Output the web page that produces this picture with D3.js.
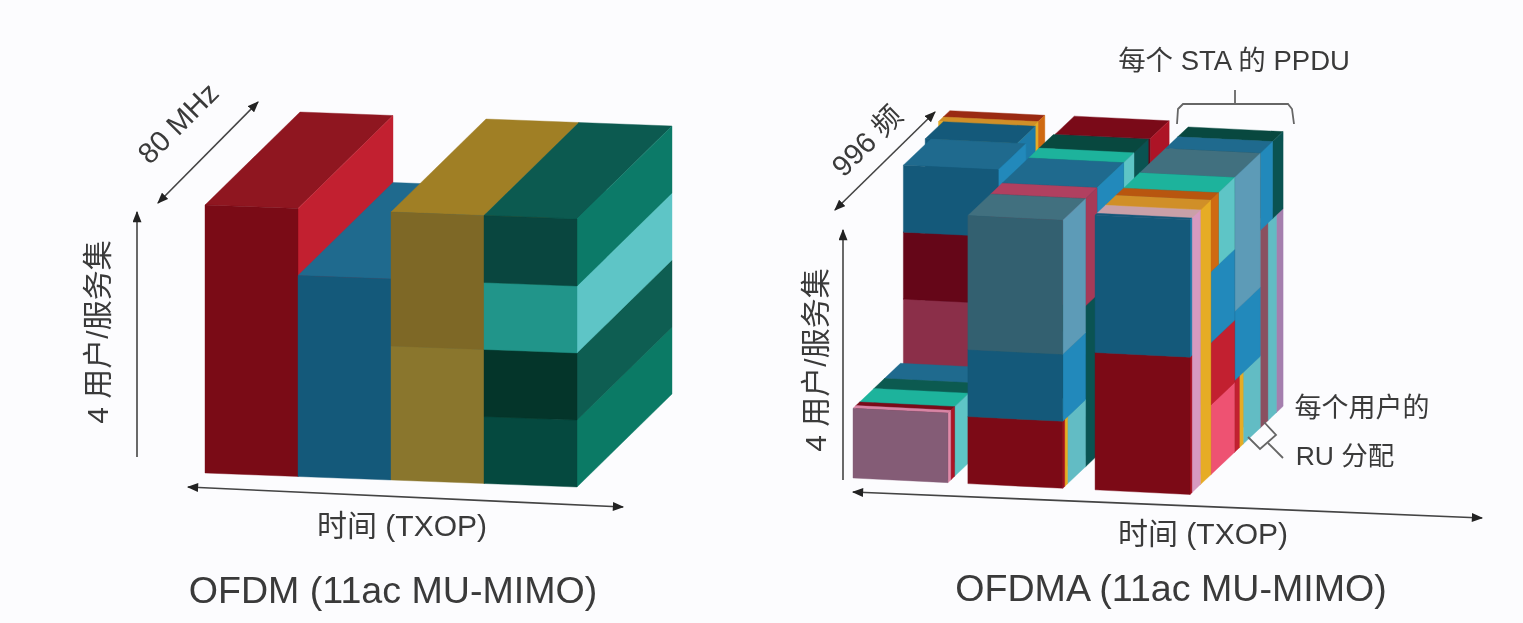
<!DOCTYPE html>
<html>
<head>
<meta charset="utf-8">
<script src="https://cdn.jsdelivr.net/npm/d3@7"></script>
<style>
  html, body { margin: 0; background: #fcfcfe; }
  svg { display: block; filter: blur(0.5px); }
  text { font-family: "Liberation Sans", "Noto Sans CJK SC", sans-serif; fill: #3a3a3a; }
</style>
</head>
<body>
<svg id="chart" width="1523" height="623"></svg>
<script>
// each row: time from, time to, depth from, depth to, level from, level to, resource
// rows are listed back to front, the order they get painted in
const OFDM_USERS = [
  [0, 1, 0, 1, 0, 4, 'crimson'],
  [1, 2, 0, 1, 0, 3, 'ocean'],
  [2, 3, 0, 1, 0, 2, 'ochreLight'],
  [2, 3, 0, 1, 2, 4, 'ochre'],
  [3, 4, 0, 1, 0, 1, 'pine'],
  [3, 4, 0, 1, 1, 2, 'forest'],
  [3, 4, 0, 1, 2, 3, 'jade'],
  [3, 4, 0, 1, 3, 4, 'pineDark'],
]

const OFDMA_FIRST_SLOT = [
  [-0.08, 0.92, 1.03, 1.1, 1, 4, 'rust'],
  [-0.08, 0.92, 0.98, 1.03, 1, 4, 'amber'],
  [-0.03, 0.94, 0.79, 0.98, 1, 4, 'deepOcean'],
  [0.03, 1.03, 0.5, 0.79, 1, 2, 'rose'],
  [0.03, 1.03, 0.5, 0.79, 2, 3, 'wine'],
  [0.03, 1.03, 0.5, 0.79, 3, 4, 'ocean'],
  [0, 1, 0.33, 0.5, 0, 1.04, 'ocean'],
  [0, 1, 0.22, 0.33, 0, 1.04, 'pineDark'],
  [0, 1, 0.07, 0.22, 0, 1.04, 'jade'],
  [0, 1, 0.03, 0.07, 0, 1.04, 'wine'],
  [0, 1, 0, 0.03, 0, 1.04, 'mauve'],
]

const OFDMA_SECOND_SLOT = [
  [1.33, 2.33, 0.8, 1, 0, 4.15, 'wine'],
  [1.21, 2.21, 0.75, 0.9, 0, 4, 'spruce'],
  [1.21, 2.21, 0.64, 0.75, 0, 4, 'jade'],
  [1.21, 2.21, 0.36, 0.64, 0, 4, 'ocean'],
  [1.21, 2.21, 0.24, 0.36, 0, 2.4, 'spruce'],
  [1.21, 2.21, 0.24, 0.36, 2.4, 4, 'rose'],
  [1.21, 2.21, 0.05, 0.24, 0, 1, 'aqua'],
  [1.21, 2.21, 0.02, 0.05, 0, 1, 'amber'],
  [1.21, 2.21, 0, 0.02, 0, 1, 'crimsonDark'],
  [1.21, 2.21, 0, 0.24, 1, 2, 'ocean'],
  [1.21, 2.21, 0, 0.24, 2, 4, 'slate'],
]

const OFDMA_THIRD_SLOT = [
  [2.55, 3.55, 0.91, 0.98, 0, 2.95, 'lilac'],
  [2.55, 3.55, 0.82, 0.91, 0, 2.95, 'aqua'],
  [2.55, 3.55, 0.74, 0.82, 0, 2.95, 'plum'],
  [2.55, 3.55, 0.87, 0.98, 2.95, 4.1, 'spruce'],
  [2.55, 3.55, 0.74, 0.87, 2.95, 4.1, 'ocean'],
  [2.55, 3.55, 0.56, 0.74, 0, 1.07, 'aqua'],
  [2.55, 3.55, 0.52, 0.56, 0, 1.07, 'amber'],
  [2.55, 3.55, 0.47, 0.52, 0, 1.07, 'crimson'],
  [2.55, 3.55, 0.47, 0.74, 1.07, 2.1, 'ocean'],
  [2.55, 3.55, 0.47, 0.74, 2.1, 4.1, 'slate'],
  [2.55, 3.55, 0.22, 0.47, 0, 1.04, 'coral'],
  [2.55, 3.55, 0.22, 0.47, 1.04, 1.97, 'crimson'],
  [2.55, 3.55, 0.22, 0.47, 1.97, 3.03, 'ocean'],
  [2.55, 3.55, 0.3, 0.47, 3.03, 4.1, 'jade'],
  [2.55, 3.55, 0.22, 0.3, 3.03, 4.1, 'ember'],
  [2.55, 3.55, 0.11, 0.22, 0, 4.1, 'amber'],
  [2.55, 3.55, 0.02, 0.11, 0, 4.1, 'orchid'],
  [2.55, 3.55, 0, 0.02, 0, 2.05, 'crimsonDark'],
  [2.55, 3.55, 0, 0.02, 2.05, 4.1, 'deepOcean'],
]

// front, side and top shade of each resource
const SHADES = {
  crimson: ['#7a0b16', '#c22030', '#8f1620'],
  crimsonDark: ['#7c0a16', '#a51020', '#8a1620'],
  wine: ['#650618', '#ad1426', '#7a0a18'],
  rose: ['#8b2f49', '#a63a58', '#b04060'],
  coral: ['#c8405c', '#ee5272', '#d04a64'],
  ocean: ['#14597a', '#2289bb', '#1f6a8e'],
  deepOcean: ['#14597a', '#1d7aa8', '#14597a'],
  slate: ['#336070', '#5d9bb7', '#41707f'],
  ochre: ['#7e6826', '#8a7428', '#a07f25'],
  ochreLight: ['#8a762d', '#8a762d', '#8a762d'],
  amber: ['#e6ac25', '#e6ac25', '#d08f28'],
  rust: ['#a03010', '#cf6a12', '#9a2a12'],
  ember: ['#a03010', '#cf6a12', '#b8560f'],
  pine: ['#05493f', '#0b7a65', '#0c5b50'],
  pineDark: ['#09463f', '#0c7a68', '#0c5a50'],
  spruce: ['#09463f', '#0a5352', '#08483f'],
  forest: ['#04352a', '#0e5e52', '#0e5e52'],
  jade: ['#21958a', '#5ec5c6', '#1db39c'],
  aqua: ['#5cc0c4', '#62bcc4', '#5cc0c4'],
  mauve: ['#845c76', '#e08aa8', '#d884a4'],
  orchid: ['#d79ac0', '#d79ac0', '#c9a0a8'],
  plum: ['#8a5060', '#8a5060', '#8a5060'],
  lilac: ['#a57fae', '#a57fae', '#a57fae'],
}

const svg = d3.select('#chart')
const INK = '#444'

function drawBlocks(blocks, frame) {
  const timeX = d3.scaleLinear().domain(frame.time).range(frame.timeX)
  const timeY = d3.scaleLinear().domain(frame.time).range(frame.timeY)
  const depthX = d3.scaleLinear().domain([0, 1]).range([0, frame.depth[0]])
  const depthY = d3.scaleLinear().domain([0, 1]).range([0, frame.depth[1]])
  const levelY = d3.scaleLinear().domain([0, 4]).range(frame.level)

  const project = (t, d, l) => [timeX(t) + depthX(d), timeY(t) + depthY(d) + levelY(l)]

  const faces = blocks.flatMap(([t0, t1, d0, d1, l0, l1, name]) => {
    const [front, side, top] = SHADES[name]
    return [
      {fill: top, pts: [project(t0, d0, l1), project(t1, d0, l1), project(t1, d1, l1), project(t0, d1, l1)]},
      {fill: side, pts: [project(t1, d0, l0), project(t1, d1, l0), project(t1, d1, l1), project(t1, d0, l1)]},
      {fill: front, pts: [project(t0, d0, l0), project(t1, d0, l0), project(t1, d0, l1), project(t0, d0, l1)]},
    ]
  })

  svg.append('g')
    .selectAll('polygon')
    .data(faces)
    .enter()
    .append('polygon')
    .attr('points', (f) => f.pts.join(' '))
    .attr('fill', (f) => f.fill)
    .attr('stroke', (f) => f.fill)
    .attr('stroke-width', 0.4)
}

function addArrowHead() {
  svg.append('defs')
    .append('marker')
    .attr('id', 'head')
    .attr('viewBox', '0 0 10 8')
    .attr('refX', 9)
    .attr('refY', 4)
    .attr('markerWidth', 12)
    .attr('markerHeight', 9)
    .attr('markerUnits', 'userSpaceOnUse')
    .attr('orient', 'auto-start-reverse')
    .append('path')
    .attr('d', 'M0,0L10,4L0,8Z')
    .attr('fill', '#222')
}

function arrow(x1, y1, x2, y2, both) {
  svg.append('line')
    .attr('x1', x1).attr('y1', y1)
    .attr('x2', x2).attr('y2', y2)
    .attr('stroke', INK)
    .attr('stroke-width', 1.6)
    .attr('marker-end', 'url(#head)')
    .attr('marker-start', both ? 'url(#head)' : null)
}

function label(text, x, y, size, rotate) {
  svg.append('text')
    .attr('transform', `translate(${x}, ${y}) rotate(${rotate || 0})`)
    .attr('text-anchor', 'middle')
    .attr('dominant-baseline', 'central')
    .attr('font-size', size)
    .text(text)
}

function polyline(points, curve) {
  svg.append('path')
    .attr('d', d3.line().curve(curve || d3.curveLinear)(points))
    .attr('fill', 'none')
    .attr('stroke', '#666')
    .attr('stroke-width', 1.8)
}

addArrowHead()

drawBlocks(OFDM_USERS, {
  time: [0, 4], timeX: [205, 577], timeY: [0, 14],
  depth: [95, -93], level: [473, 205],
})
drawBlocks([...OFDMA_FIRST_SLOT, ...OFDMA_SECOND_SLOT, ...OFDMA_THIRD_SLOT], {
  time: [0, 3.55], timeX: [853, 1190], timeY: [0, 16.5],
  depth: [95, -90], level: [478, 210],
})

// left panel labels
arrow(158, 203, 258, 102, true)
arrow(137, 457, 137, 212)
arrow(188, 487, 623, 507, true)
label('80 MHz', 178, 123, 29, -45)
label('4 用户/服务集', 97, 332, 30, -90)
label('时间 (TXOP)', 402, 525, 30)
label('OFDM (11ac MU-MIMO)', 393, 590, 37.6)

// right panel labels
arrow(835, 210, 935, 112, true)
arrow(843, 480, 843, 230)
arrow(853, 492, 1482, 518, true)
label('996 频', 867, 141, 29, -45)
label('4 用户/服务集', 815, 360, 30, -90)
label('时间 (TXOP)', 1203, 533, 30)
label('OFDMA (11ac MU-MIMO)', 1171, 588, 37.6)
label('每个 STA 的 PPDU', 1234, 60, 27.5)
label('每个用户的', 1362, 408, 27)
label('RU 分配', 1345, 456, 26.5)

// brace over the PPDU slices, with its stem
polyline([[1177, 124], [1178, 109], [1183, 104], [1288, 104], [1292, 109], [1294, 124]])
polyline([[1235, 90], [1235, 104]])
// small bracket at the foot of the RU slices
polyline([[1248, 437], [1260, 449], [1276, 435], [1264, 422]])
polyline([[1268, 443], [1283, 458]])
</script>
</body>
</html>
